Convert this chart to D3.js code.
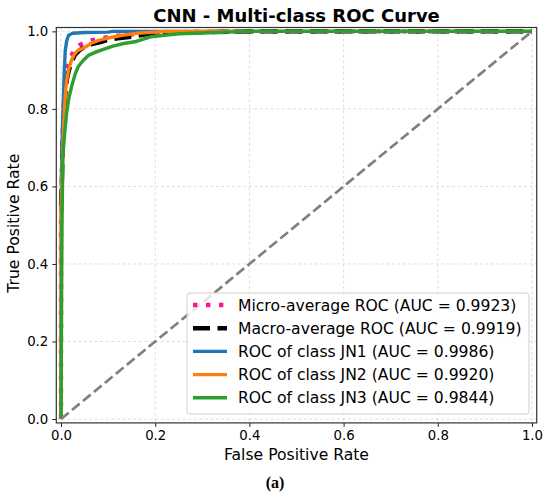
<!DOCTYPE html>
<html>
<head>
<meta charset="utf-8">
<script src="https://cdn.jsdelivr.net/npm/d3@7"></script>
<style>
  body { margin: 0; background: #fff; }
  svg { display: block; font-family: "DejaVu Sans", sans-serif; }
</style>
</head>
<body>
<svg id="chart" width="550" height="497"></svg>
<script>
// ROC points
const microFpr = [0, 0, 0.002, 0.004, 0.006, 0.009, 0.013, 0.018, 0.024, 0.03, 0.04, 0.058, 0.08, 0.1, 0.13, 0.17, 0.2, 0.25, 0.3, 0.4, 1];
const microTpr = [0, 0.5, 0.66, 0.75, 0.82, 0.87, 0.9, 0.925, 0.942, 0.955, 0.965, 0.975, 0.981, 0.985, 0.99, 0.994, 0.996, 0.998, 0.999, 1, 1];

const macroFpr = [0, 0.002, 0.004, 0.006, 0.008, 0.01, 0.013, 0.017, 0.022, 0.03, 0.04, 0.05, 0.065, 0.086, 0.1, 0.12, 0.15, 0.2, 0.25, 0.3, 0.4, 1];
const macroTpr = [0.55, 0.62, 0.72, 0.78, 0.82, 0.85, 0.88, 0.9, 0.92, 0.94, 0.952, 0.96, 0.967, 0.973, 0.978, 0.982, 0.986, 0.996, 0.997, 0.998, 1, 1];

const jn1Fpr = [0, 0.001, 0.003, 0.005, 0.007, 0.009, 0.012, 0.016, 0.025, 0.05, 0.1, 0.11, 1];
const jn1Tpr = [0, 0.6, 0.75, 0.82, 0.9, 0.95, 0.975, 0.99, 0.995, 0.997, 0.998, 1, 1];

const jn2Fpr = [0, 0, 0.002, 0.004, 0.006, 0.008, 0.01, 0.013, 0.017, 0.022, 0.028, 0.035, 0.045, 0.055, 0.065, 0.08, 0.1, 0.13, 0.16, 0.2, 0.22, 1];
const jn2Tpr = [0, 0.55, 0.62, 0.7, 0.76, 0.81, 0.85, 0.88, 0.905, 0.925, 0.94, 0.95, 0.956, 0.962, 0.97, 0.977, 0.983, 0.99, 0.995, 0.998, 1, 1];

const jn3Fpr = [0, 0.002, 0.004, 0.008, 0.012, 0.017, 0.023, 0.03, 0.037, 0.047, 0.058, 0.075, 0.093, 0.11, 0.13, 0.16, 0.19, 0.25, 0.3, 0.35, 0.4, 1];
const jn3Tpr = [0, 0.5, 0.68, 0.74, 0.79, 0.83, 0.86, 0.89, 0.91, 0.925, 0.938, 0.947, 0.955, 0.962, 0.968, 0.974, 0.986, 0.994, 0.996, 0.998, 1, 1];

const seriesNames = ["Micro-average ROC (AUC = 0.9923)", "Macro-average ROC (AUC = 0.9919)",
  "ROC of class JN1 (AUC = 0.9986)", "ROC of class JN2 (AUC = 0.9920)", "ROC of class JN3 (AUC = 0.9844)"];
const tickValues = [0, 0.2, 0.4, 0.6, 0.8, 1.0];

const svg = d3.select("#chart");
const pLeft = 56.3, pRight = 536.7, pTop = 27.5, pBottom = 422.9;

const x = d3.scaleLinear().domain([-0.01, 1.01]).range([pLeft, pRight]);
const y = d3.scaleLinear().domain([-0.01, 1.01]).range([pBottom, pTop]);

// grid
const grid = svg.append("g").attr("stroke", "#d6d6d6").attr("stroke-width", 0.8)
  .attr("stroke-dasharray", "3,2.5");
tickValues.forEach(t => {
  grid.append("line").attr("x1", x(t)).attr("x2", x(t)).attr("y1", pTop).attr("y2", pBottom);
  grid.append("line").attr("x1", pLeft).attr("x2", pRight).attr("y1", y(t)).attr("y2", y(t));
});

const plot = svg.append("g");
plot.append("clipPath").attr("id", "clip").append("rect")
  .attr("x", pLeft).attr("y", pTop).attr("width", pRight - pLeft).attr("height", pBottom - pTop);

const line = d3.line().x(d => x(d[0])).y(d => y(d[1]));
const zip = (a, b) => a.map((v, i) => [v, b[i]]);

const series = [
  {pts: zip(microFpr, microTpr), color: "#ff1493", width: 4.4, dash: "4.4,8.6"},
  {pts: zip(macroFpr, macroTpr), color: "#000000", width: 4.4, dash: "17,7.5"},
  {pts: zip(jn1Fpr, jn1Tpr), color: "#1f77b4", width: 3.4, dash: null},
  {pts: zip(jn2Fpr, jn2Tpr), color: "#ff7f0e", width: 3.4, dash: null},
  {pts: zip(jn3Fpr, jn3Tpr), color: "#2ca02c", width: 3.4, dash: null}
];

const lines = plot.append("g").attr("clip-path", "url(#clip)");
series.forEach(s => {
  lines.append("path").datum(s.pts)
    .attr("fill", "none")
    .attr("stroke", s.color)
    .attr("stroke-width", s.width)
    .attr("stroke-dasharray", s.dash)
    .attr("stroke-linejoin", "round")
    .attr("d", line);
});

// chance diagonal
lines.append("path").datum([[0, 0], [1, 1]])
  .attr("fill", "none").attr("stroke", "#808080").attr("stroke-width", 2.7)
  .attr("stroke-dasharray", "10,4.2")
  .attr("d", line);

// axes
const fmt = d3.format(".1f");
const xAxis = svg.append("g").attr("transform", `translate(0,${pBottom})`)
  .call(d3.axisBottom(x).tickValues(tickValues).tickFormat(fmt).tickSize(4).tickPadding(4));
const yAxis = svg.append("g").attr("transform", `translate(${pLeft},0)`)
  .call(d3.axisLeft(y).tickValues(tickValues).tickFormat(fmt).tickSize(4).tickPadding(4));
[xAxis, yAxis].forEach(a => {
  a.select(".domain").remove();
  a.selectAll(".tick line").attr("stroke", "#222").attr("stroke-width", 1);
  a.selectAll(".tick text").attr("font-size", 13.3).attr("fill", "#000")
    .attr("font-family", "DejaVu Sans");
});

svg.append("rect").attr("x", pLeft).attr("y", pTop)
  .attr("width", pRight - pLeft).attr("height", pBottom - pTop)
  .attr("fill", "none").attr("stroke", "#333").attr("stroke-width", 1.2);

// legend
const lg = svg.append("g");
lg.append("rect").attr("x", 187).attr("y", 293).attr("width", 342).attr("height", 121)
  .attr("rx", 3).attr("fill", "rgba(255,255,255,0.8)")
  .attr("stroke", "#cfcfcf").attr("stroke-width", 1);
seriesNames.forEach((name, i) => {
  const cy = 305 + i * 23.2;
  const s = series[i];
  lg.append("line").attr("x1", 193).attr("x2", 227).attr("y1", cy).attr("y2", cy)
    .attr("stroke", s.color).attr("stroke-width", s.width).attr("stroke-dasharray", s.dash);
  lg.append("text").attr("x", 238).attr("y", cy).attr("dy", "0.36em")
    .attr("font-size", 15.6).attr("fill", "#000").text(name);
});

// titles
svg.append("text").attr("x", (pLeft + pRight) / 2).attr("y", 21.5)
  .attr("text-anchor", "middle").attr("font-size", 18).attr("font-weight", "bold")
  .text("CNN - Multi-class ROC Curve");
svg.append("text").attr("x", (pLeft + pRight) / 2).attr("y", 459.5)
  .attr("text-anchor", "middle").attr("font-size", 15.6).text("False Positive Rate");
svg.append("text").attr("transform", `translate(18.5,${(pTop + pBottom) / 2 - 2}) rotate(-90)`)
  .attr("text-anchor", "middle").attr("font-size", 15.6).text("True Positive Rate");
svg.append("text").attr("x", 275).attr("y", 488).attr("text-anchor", "middle")
  .attr("font-family", "Liberation Serif").attr("font-weight", "bold").attr("font-size", 16)
  .text("(a)");
</script>
</body>
</html>
